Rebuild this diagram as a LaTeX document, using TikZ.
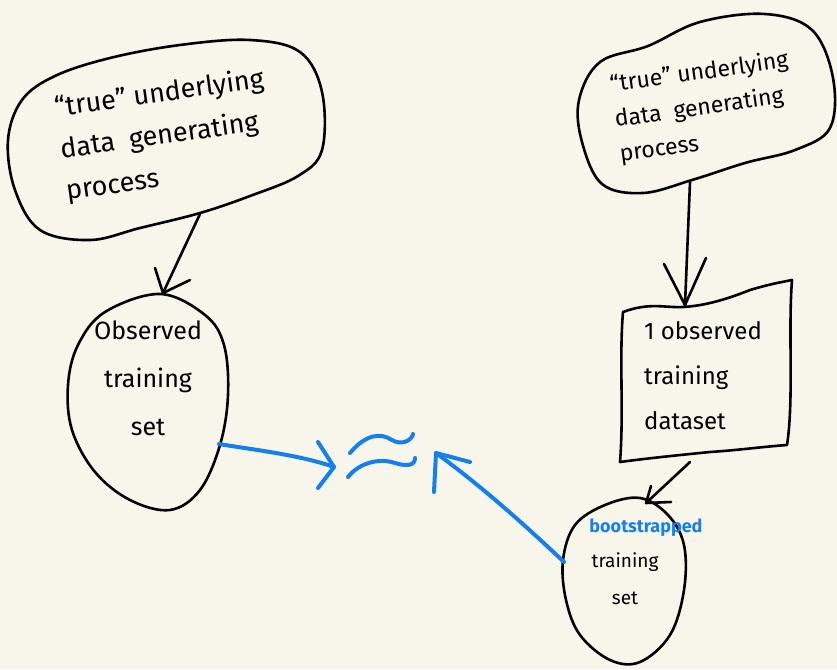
\documentclass[tikz,border=0pt]{standalone}
\usepackage{fontspec}
\setmainfont{Fira Sans}
\definecolor{bg}{HTML}{F8F6EA}
\definecolor{bluepen}{HTML}{1480F0}
\begin{document}
\begin{tikzpicture}[x=1pt,y=-1pt, line cap=round, line join=round,
 ink/.style={draw=black, line width=2.6pt},
 blueink/.style={draw=bluepen, line width=4pt},
 hand/.style={font=\fontsize{24}{40}\selectfont, inner sep=0pt},
]
\useasboundingbox (0,0) rectangle (837,669);
\fill[bg] (0,0) rectangle (837,669);

% left cloud
\draw[ink] plot[smooth cycle, tension=0.6] coordinates {(180,45) (250,40) (300,52) (322,92) (322,150) (298,176) (250,196) (200,213) (140,228) (90,240) (40,230) (15,190) (8,140) (22,100) (55,76) (110,58)};
\node[hand, align=left, rotate=8, font=\fontsize{27}{42}\selectfont] (tL) at (165,136) {“true” underlying\\ data \ generating\\ process};

% right cloud
\draw[ink] plot[smooth cycle, tension=0.6] coordinates {(700,22) (765,14) (812,30) (833,78) (830,128) (795,150) (745,163) (692,180) (643,193) (602,184) (582,142) (579,100) (600,62) (648,46)};
\node[hand, font=\fontsize{23}{35}\selectfont, align=left, rotate=8] (tR) at (704,108) {“true” underlying\\ data \ generating\\ process};

% left egg
\draw[ink] plot[smooth cycle, tension=0.6] coordinates {(160,294) (205,315) (224,345) (228,395) (220,445) (200,490) (170,510) (130,500) (95,472) (72,430) (68,385) (78,345) (105,312)};
\node[hand, align=center, font=\fontsize{25}{48}\selectfont] (oL) at (148,378) {Observed\\training\\set};

% rectangle
\draw[ink] (623,312) .. controls (650,302) and (665,308) .. (683,307)
  .. controls (700,306) and (720,302) .. (750,290)
  .. controls (770,284) and (782,282) .. (792,280)
  .. controls (788,330) and (794,400) .. (787,445)
  .. controls (760,447) and (740,450) .. (710,452)
  .. controls (680,455) and (650,458) .. (620,462)
  .. controls (624,410) and (619,360) .. cycle;
\node[hand, align=left, font=\fontsize{24}{45}\selectfont] (oR) at (703,376) {1 observed\\training\\dataset};

% bootstrap egg
\draw[ink] plot[smooth cycle, tension=0.6] coordinates {(640,498) (668,515) (684,545) (684,590) (670,635) (640,662) (610,660) (580,635) (566,600) (563,560) (575,525) (605,505)};
\node[hand, font=\bfseries\fontsize{18}{20}\selectfont, text=bluepen] (bs) at (646,528) {bootstrapped};
\node[hand, align=center, font=\fontsize{19}{37}\selectfont] (bt) at (625,579) {training\\set};

% black arrows
\coordinate (Lcb) at (200,214);
\coordinate (Let) at (163,293);
\draw[ink] (Lcb) -- (Let);
\draw[ink] (155,268) -- (Let) -- (190,280);

\coordinate (Rcb) at (690,182);
\coordinate (Rrt) at (685,305);
\draw[ink] (Rcb) -- (Rrt);
\draw[ink] (664,264) -- (Rrt) -- (706,258);

\coordinate (Rrb) at (690,462);
\coordinate (Bt) at (646,503);
\draw[ink] (Rrb) -- (Bt);
\draw[ink] (671,502) -- (Bt) -- (651,486);

% blue arrows and approx sign
\coordinate (Ler) at (219,444);
\coordinate (Ltip) at (334,467);
\draw[blueink] (Ler) .. controls (255,450) and (300,455) .. (Ltip);
\draw[blueink] (318,442) -- (Ltip) -- (318,488);

\draw[blueink] (350,453) .. controls (365,435) and (380,432) .. (392,440) .. controls (402,446) and (412,440) .. (413,434);
\draw[blueink] (348,477) .. controls (360,462) and (380,458) .. (395,463) .. controls (408,467) and (415,465) .. (415,458);

\coordinate (Bl) at (564,562);
\coordinate (Rtip) at (436,453);
\draw[blueink] (Bl) .. controls (525,525) and (480,485) .. (Rtip);
\draw[blueink] (434,492) -- (Rtip) -- (470,462);
\end{tikzpicture}
\end{document}
